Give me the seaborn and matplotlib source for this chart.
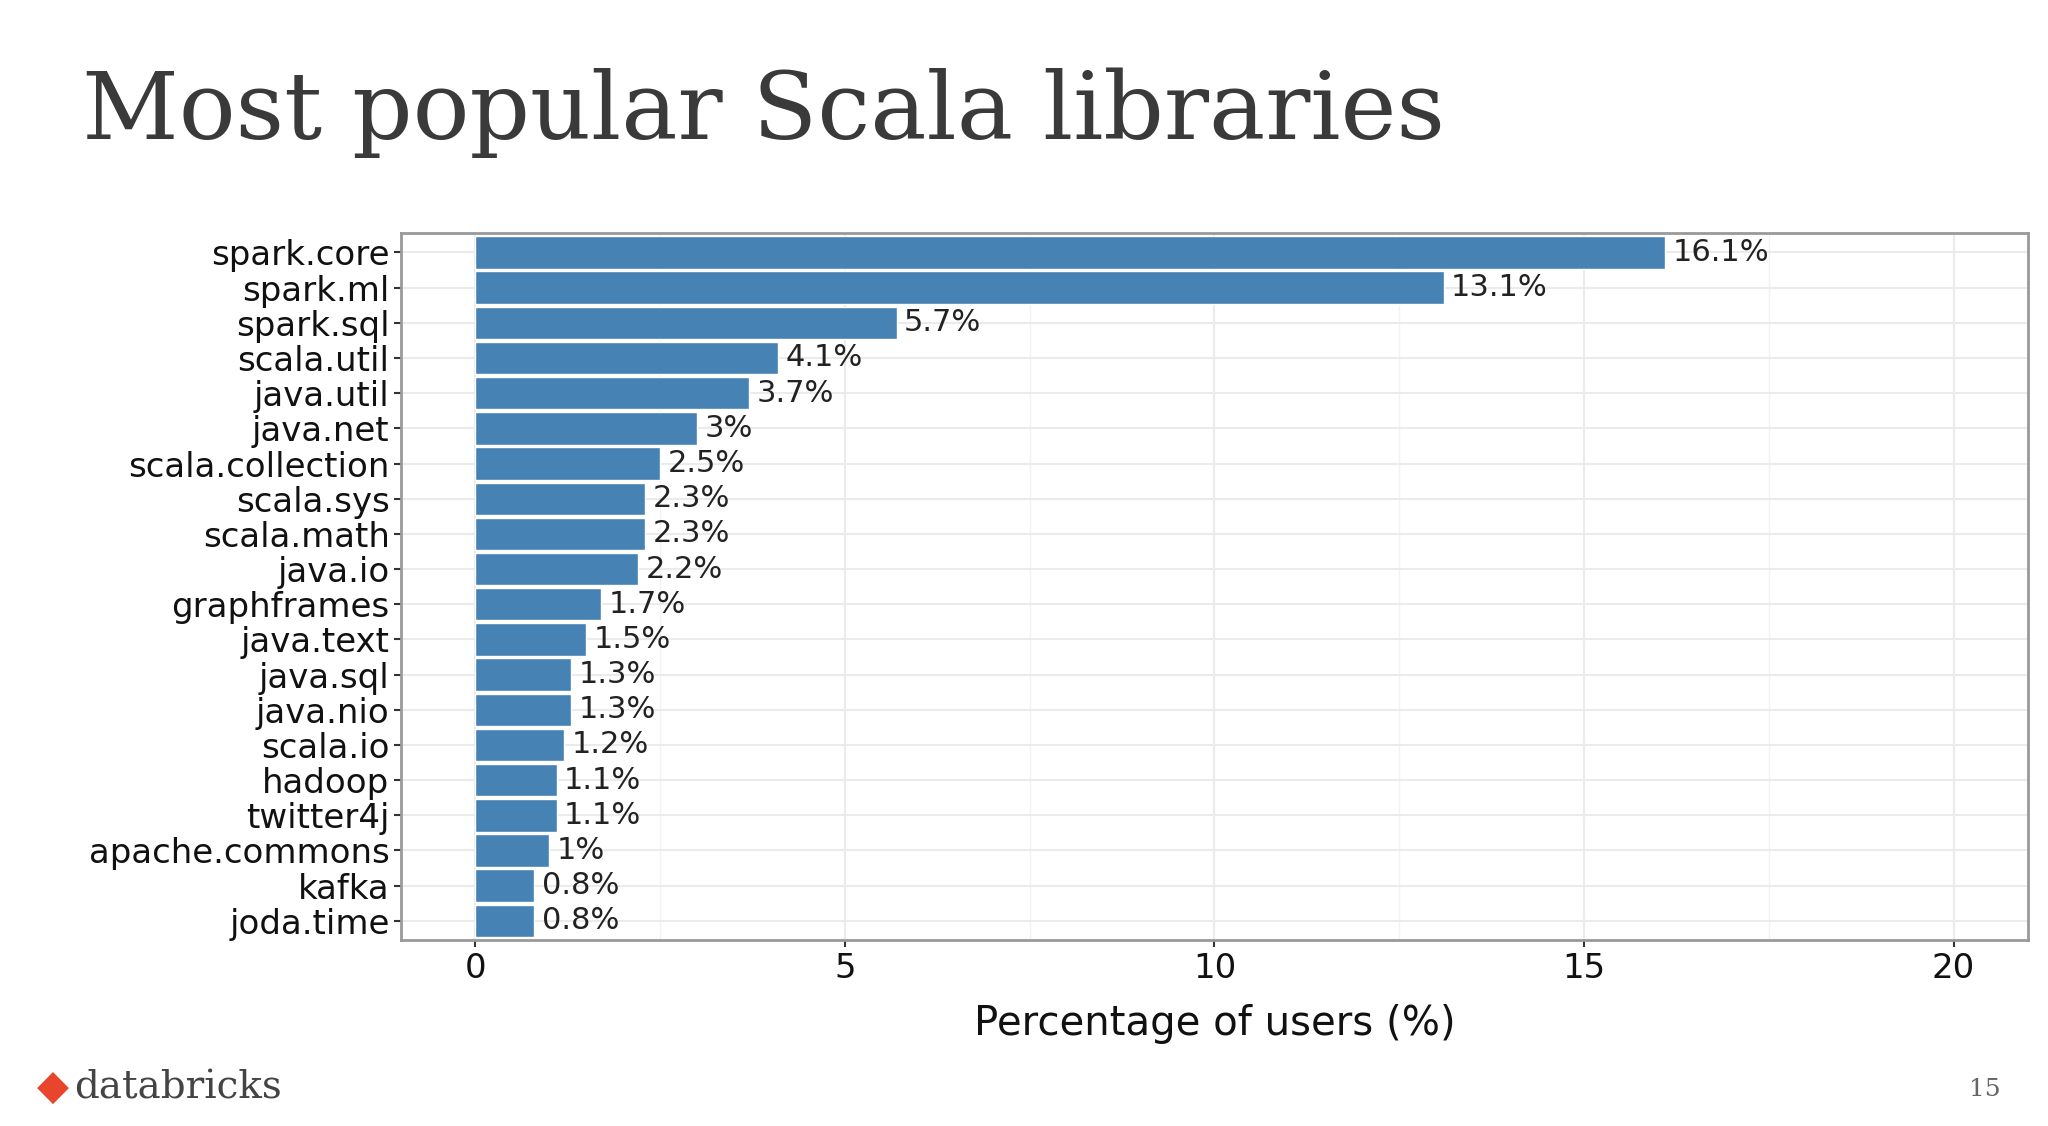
import matplotlib
matplotlib.use("Agg")
import matplotlib.pyplot as plt
import seaborn as sns
import pandas as pd

libraries = ["spark.core", "spark.ml", "spark.sql", "scala.util", "java.util", "java.net",
             "scala.collection", "scala.sys", "scala.math", "java.io", "graphframes", "java.text",
             "java.sql", "java.nio", "scala.io", "hadoop", "twitter4j", "apache.commons",
             "kafka", "joda.time"]
pct = [16.1, 13.1, 5.7, 4.1, 3.7, 3.0, 2.5, 2.3, 2.3, 2.2, 1.7, 1.5, 1.3, 1.3, 1.2, 1.1, 1.1, 1.0, 0.8, 0.8]
pct_labels = ["16.1%", "13.1%", "5.7%", "4.1%", "3.7%", "3%", "2.5%", "2.3%", "2.3%", "2.2%",
              "1.7%", "1.5%", "1.3%", "1.3%", "1.2%", "1.1%", "1.1%", "1%", "0.8%", "0.8%"]
x_ticks = [0, 5, 10, 15, 20]

df = pd.DataFrame({"library": libraries, "pct": pct})

fig = plt.figure(figsize=(20.48, 11.26), dpi=100)
ax = fig.add_axes([0.196, 0.165, 0.794, 0.628])
sns.barplot(data=df, y="library", x="pct", color="#4682B4", saturation=1,
            width=0.92, edgecolor="white", linewidth=1, ax=ax, zorder=3)

for i, (v, lab) in enumerate(zip(pct, pct_labels)):
    ax.text(v + 0.1, i, lab, va="center", ha="left", fontsize=22, color="#222222", zorder=4)

ax.set_xlim(-1, 21)
ax.set_ylim(len(libraries) - 0.45, -0.55)
ax.set_xticks(x_ticks)
ax.set_xticks([2.5, 7.5, 12.5, 17.5], minor=True)
ax.tick_params(axis="x", which="minor", length=0)
ax.grid(True, which="major", color="#ebebeb", linewidth=1.5, zorder=0)
ax.grid(True, which="minor", axis="x", color="#f3f3f3", linewidth=1, zorder=0)
ax.set_axisbelow(True)
ax.tick_params(axis="both", labelsize=24.5, colors="#333333", length=5, width=1.5)
ax.tick_params(axis="y", labelcolor="#111111")
ax.tick_params(axis="x", labelcolor="#111111")
for s in ax.spines.values():
    s.set_color("#999999")
    s.set_linewidth(2)
ax.set_ylabel("")
ax.set_xlabel("Percentage of users (%)", fontsize=29, color="#111111", labelpad=14)

fig.text(0.04, 0.9, "Most popular Scala libraries", fontsize=68, family="DejaVu Serif",
         fontweight="light", color="#3a3a3a", va="center")
fig.text(0.018, 0.034, "\u25c6", fontsize=30, color="#e8452c", va="center")
fig.text(0.036, 0.034, "databricks", fontsize=28, family="DejaVu Serif", color="#444444", va="center")
fig.text(0.977, 0.032, "15", fontsize=18, family="DejaVu Serif", color="#666666", va="center", ha="right")

fig.savefig("out.png", dpi=100, facecolor="white")
